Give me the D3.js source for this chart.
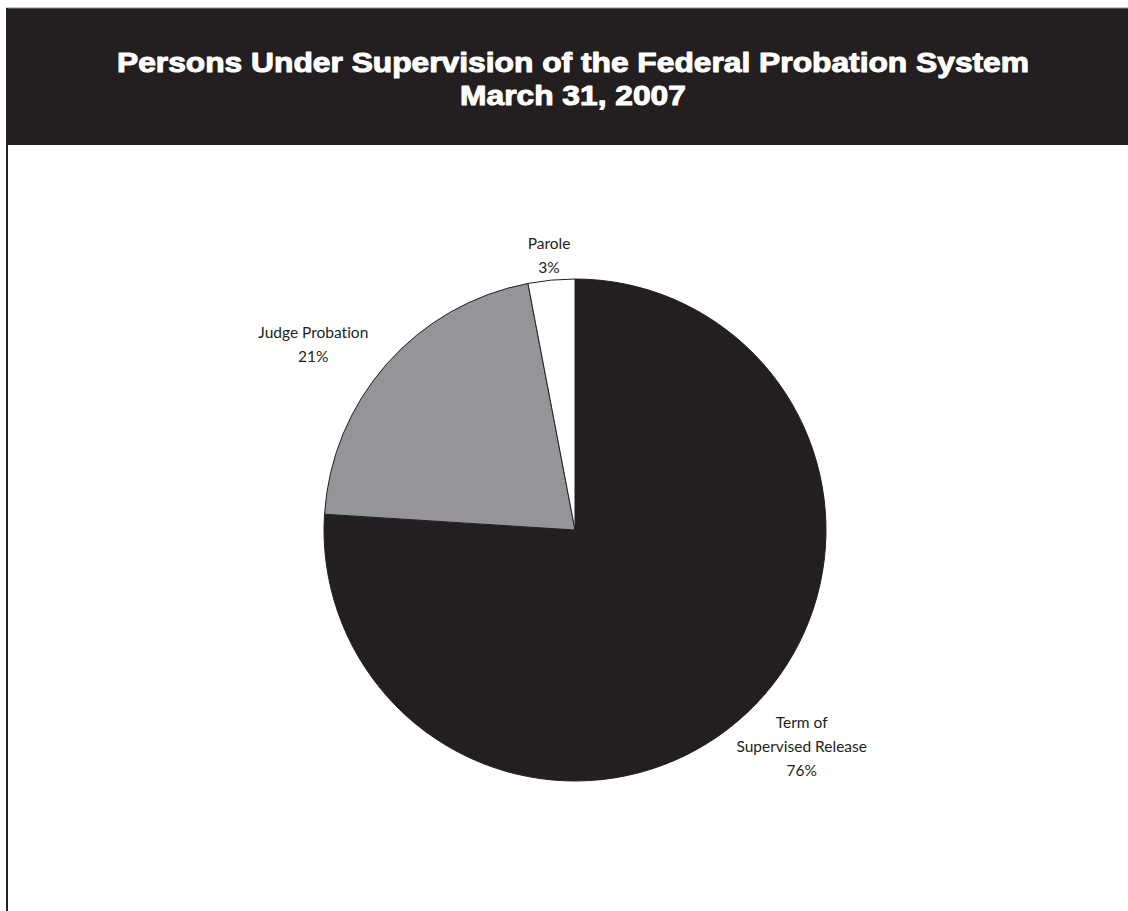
<!DOCTYPE html>
<html><head><meta charset="utf-8">
<script src="https://cdn.jsdelivr.net/npm/d3@7"></script>
<style>
html,body{margin:0;padding:0;background:#fff;}
svg{display:block;}
text{font-variant-ligatures:none;}
</style></head>
<body>
<svg id="chart" width="1128" height="911"></svg>
<script>
const titleLines = ["Persons Under Supervision of the Federal Probation System", "March 31, 2007"];
const categories = ["Term of Supervised Release", "Judge Probation", "Parole"];
const labelLines = [["Term of", "Supervised Release"], ["Judge Probation"], ["Parole"]];
const values = [76, 21, 3];
const colors = ["#231f20", "#939598", "#ffffff"];

const svg = d3.select("#chart");
const W = 1128, H = 911;

// header band
svg.append("rect").attr("x", 6).attr("y", 8).attr("width", W - 6).attr("height", 137).attr("fill", "#231f20");
svg.append("line").attr("x1", 6).attr("x2", W).attr("y1", 8).attr("y2", 8).attr("stroke", "#8a8a8a").attr("stroke-width", 1);
// left border
svg.append("line").attr("x1", 7).attr("x2", 7).attr("y1", 8).attr("y2", H).attr("stroke", "#231f20").attr("stroke-width", 2);

const title = svg.append("text").attr("text-anchor", "middle").attr("fill", "#fff")
  .attr("stroke", "#fff").attr("stroke-width", 1).attr("stroke-linejoin", "round")
  .attr("font-family", "'Liberation Sans', Arial, sans-serif").attr("font-weight", "bold").attr("font-size", 27);
titleLines.forEach((t, i) => {
  title.append("tspan").attr("x", 573).attr("y", 72 + i * 33).text(t);
});
// stretch heavy title to match reference width
const t0 = title.select("tspan").node();
const target = 912;
const len = t0.getComputedTextLength();
title.selectAll("tspan").each(function(){
  const l = this.getComputedTextLength();
  this.setAttribute("textLength", l * target / len);
  this.setAttribute("lengthAdjust", "spacingAndGlyphs");
});

const cx = 575, cy = 530, R = 251;
const pie = d3.pie().sort(null).value(d => d)(values);
const arc = d3.arc().innerRadius(0).outerRadius(R);
const g = svg.append("g").attr("transform", `translate(${cx},${cy})`);
g.selectAll("path").data(pie).join("path")
  .attr("d", arc).attr("fill", (d, i) => colors[i])
  .attr("stroke", "#231f20").attr("stroke-width", 1);

// label placement: radius and angular nudge (radians) per slice
const labelR = [313, 321, 276];
const labelNudge = [-0.056, -0.105, 0];
const fmt = v => Math.round(v) + "%";
pie.forEach((d, i) => {
  const a = (d.startAngle + d.endAngle) / 2 + labelNudge[i];
  const lx = Math.sin(a) * labelR[i], ly = -Math.cos(a) * labelR[i];
  const lines = labelLines[i].concat([fmt(values[i])]);
  const lh = 24;
  const t = g.append("text").attr("text-anchor", "middle").attr("fill", "#231f20")
    .attr("font-family", "Lato, 'Open Sans', sans-serif").attr("font-size", 15.5);
  lines.forEach((s, k) => {
    t.append("tspan").attr("x", lx).attr("y", ly + (k - (lines.length - 1) / 2) * lh + 6).text(s);
  });
});
</script>
</body></html>
